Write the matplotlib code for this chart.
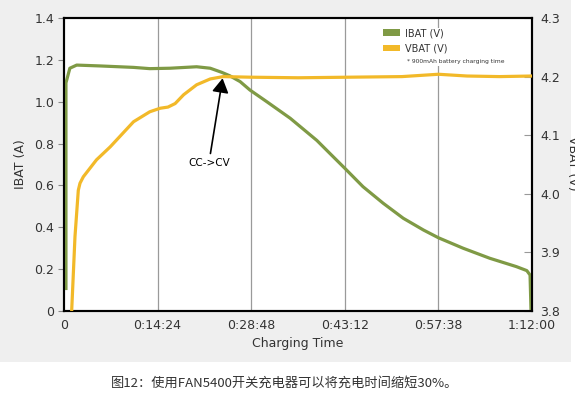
import matplotlib
matplotlib.use("Agg")
import matplotlib.pyplot as plt
from matplotlib.patches import Patch, Rectangle

# ---------------- data ----------------
ibat_t = [0.3, 0.3, 0.9, 1.95, 5.5, 10.7, 13.2, 16.3, 20.4, 22.5, 24.3, 25.5,
          27.1, 28.6, 31.2, 34.8, 38.9, 40.9, 43.2, 46.0, 49.1, 52.2, 55.3,
          57.6, 61.4, 65.5, 69.6, 71.2, 71.7, 71.85]
ibat = [0.10, 1.09, 1.16, 1.175, 1.171, 1.164, 1.158, 1.160, 1.167, 1.160,
        1.140, 1.124, 1.096, 1.056, 1.000, 0.921, 0.815, 0.753, 0.682, 0.594,
        0.515, 0.443, 0.387, 0.350, 0.300, 0.252, 0.212, 0.193, 0.172, 0.0]

vbat_t = [1.18, 1.69, 2.2, 2.46, 2.97, 5.0, 7.1, 10.7, 13.2, 14.8, 16.0, 17.1,
          18.4, 20.4, 22.5, 24.5, 28.6, 36.0, 44.0, 52.0, 57.6, 62.0, 67.0, 72.0]
vbat = [3.80, 3.927, 4.006, 4.018, 4.029, 4.058, 4.080, 4.123, 4.140, 4.146,
        4.148, 4.154, 4.169, 4.186, 4.196, 4.200, 4.199, 4.198, 4.199, 4.200,
        4.204, 4.201, 4.200, 4.201]

x_ticks = [0, 14.4, 28.8, 43.2, 57.6, 72]
x_labels = ["0", "0:14:24", "0:28:48", "0:43:12", "0:57:38", "1:12:00"]
y_left_ticks = [0, 0.2, 0.4, 0.6, 0.8, 1.0, 1.2, 1.4]
y_left_labels = ["0", "0.2", "0.4", "0.6", "0.8", "1.0", "1.2", "1.4"]
y_right_ticks = [3.8, 3.9, 4.0, 4.1, 4.2, 4.3]
y_right_labels = ["3.8", "3.9", "4.0", "4.1", "4.2", "4.3"]

series_names = ["IBAT (V)", "VBAT (V)"]
note = "* 900mAh battery charging time"
caption = "图12：使用FAN5400开关充电器可以将充电时间缩短30%。"
annot_text = "CC->CV"
annot_tip = (24.4, 1.112)
annot_pos = (22.3, 0.709)

GREEN = "#7f9a45"
YELLOW = "#f2b929"
TXT = "#333333"

# ---------------- figure ----------------
fig = plt.figure(figsize=(5.75, 3.97), dpi=100)
fig.patch.set_facecolor("white")
fig.add_artist(Rectangle((0, 1 - 362 / 397), 571 / 575, 362 / 397,
                         transform=fig.transFigure, facecolor="#efefef",
                         edgecolor="none", zorder=-5))

ax = fig.add_axes([64 / 575, 1 - 311 / 397, 468 / 575, 293 / 397])
ax.set_facecolor("white")
ax.set_xlim(0, 72)
ax.set_ylim(0, 1.4)

for xv in x_ticks[1:-1]:
    ax.axvline(xv, color="#9a9a9a", lw=0.9, zorder=1)

# white box behind the legend block (hides the grid line there)
ax.add_patch(Rectangle(((380 - 64) / 468, 1 - (66 - 18) / 293), 130 / 468,
                       38 / 293, transform=ax.transAxes, facecolor="white",
                       edgecolor="none", zorder=2))

ax.plot(ibat_t, ibat, color=GREEN, lw=2.3, solid_joinstyle="round",
        solid_capstyle="butt", zorder=3)

ax.set_xticks(x_ticks)
ax.set_xticklabels(x_labels)
ax.set_yticks(y_left_ticks)
ax.set_yticklabels(y_left_labels)
ax.tick_params(axis="x", length=0, pad=6, labelsize=9, labelcolor=TXT)
ax.tick_params(axis="y", direction="out", length=4, width=0.8, color="#888888",
               pad=3, labelsize=9, labelcolor=TXT)
ax.set_xlabel("Charging Time", fontsize=9, color=TXT, labelpad=3)
ax.set_ylabel("IBAT (A)", fontsize=9, color=TXT, labelpad=5)

for s in ax.spines.values():
    s.set_linewidth(1.5)
    s.set_color("black")

ax2 = ax.twinx()
ax2.set_ylim(3.8, 4.3)
ax2.plot(vbat_t, vbat, color=YELLOW, lw=2.3, solid_joinstyle="round",
         solid_capstyle="butt", zorder=3)
ax2.set_yticks(y_right_ticks)
ax2.set_yticklabels(y_right_labels)
ax2.tick_params(axis="y", direction="in", length=6, width=0.8, color="#999999",
                pad=6, labelsize=9, labelcolor=TXT)
for s in ax2.spines.values():
    s.set_linewidth(1.5)
    s.set_color("black")

fig.text(572 / 575, 1 - 163 / 397, "VBAT (V)", rotation=270, ha="center",
         va="center", fontsize=9, color=TXT)

# legend
handles = [Patch(facecolor=GREEN, edgecolor="none"),
           Patch(facecolor=YELLOW, edgecolor="none")]
leg = ax.legend(handles, series_names, loc="upper left",
                bbox_to_anchor=((383 - 64) / 468, 1 - (28 - 18) / 293),
                frameon=False, fontsize=7,
                handlelength=1.75, handleheight=0.65, handletextpad=0.55,
                labelspacing=0.55, borderpad=0.0, borderaxespad=0)
for t in leg.get_texts():
    t.set_color(TXT)
leg.set_zorder(5)

ax.text((407 - 64) / 468, 1 - (62 - 18) / 293, note, transform=ax.transAxes,
        ha="left", va="center", fontsize=4.3, color=TXT, zorder=5)

# annotation
ax.annotate(annot_text, xy=annot_tip, xytext=annot_pos, ha="center",
            va="center", fontsize=7.5, color="black", zorder=6,
            arrowprops=dict(arrowstyle="-|>,head_length=0.86,head_width=0.5",
                            color="black", lw=1.2, shrinkA=1, shrinkB=0,
                            mutation_scale=10))

fig.text(285 / 575, 1 - 383 / 397, caption, ha="center", va="center",
         fontsize=9.5, color=TXT, family=["Noto Sans CJK SC", "DejaVu Sans"])

fig.savefig("out.png", dpi=100)
